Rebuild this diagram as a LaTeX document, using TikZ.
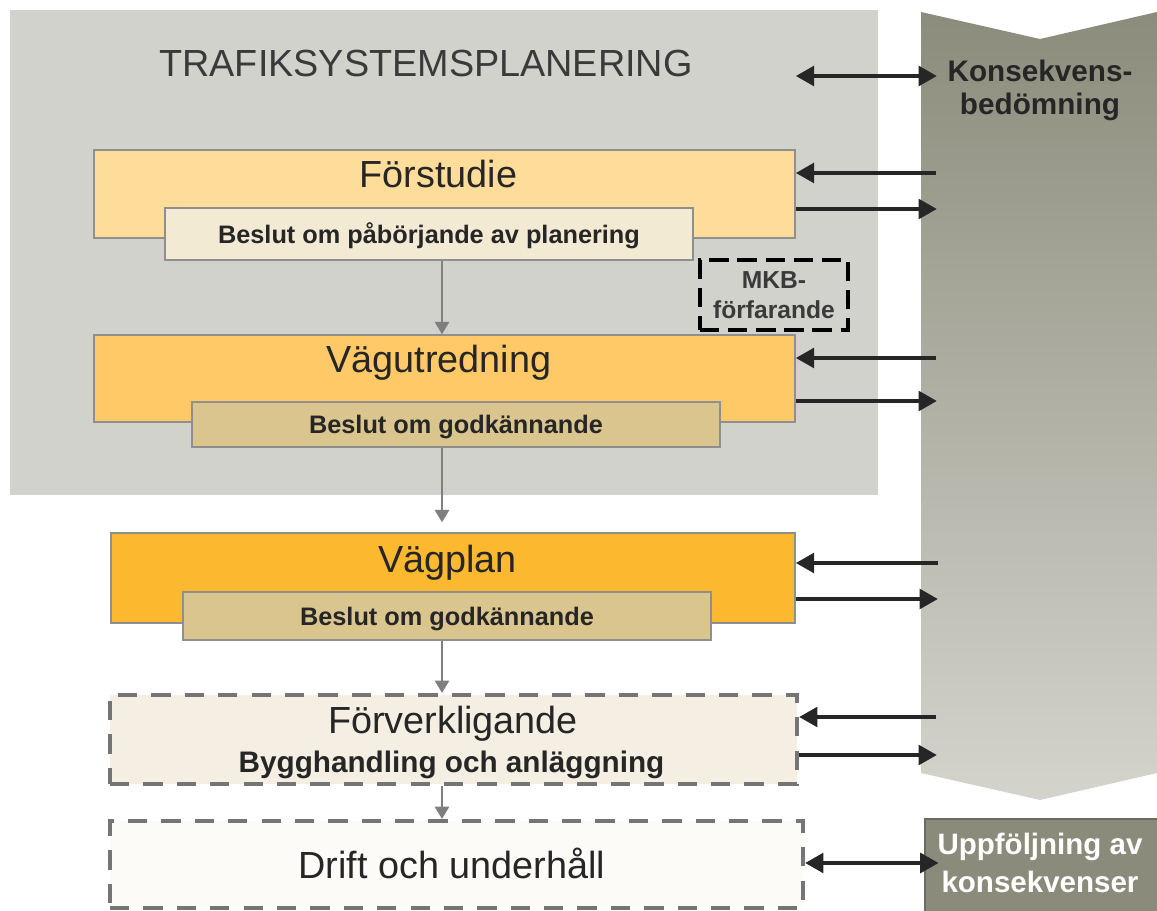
\documentclass[tikz,border=0pt]{standalone}
\usepackage{fontspec}
\setmainfont{Liberation Sans}
\usetikzlibrary{arrows.meta}

\definecolor{bggray}{HTML}{D1D2CC}
\definecolor{chevtop}{HTML}{8C8C7C}
\definecolor{chevbot}{HTML}{D4D4CD}
\definecolor{fsfill}{HTML}{FEDD9B}
\definecolor{b1fill}{HTML}{F2EAD3}
\definecolor{vufill}{HTML}{FEC966}
\definecolor{bgfill}{HTML}{DBC58E}
\definecolor{vpfill}{HTML}{FCB82E}
\definecolor{fvfill}{HTML}{F4EFE2}
\definecolor{drfill}{HTML}{FCFBF8}
\definecolor{upfill}{HTML}{8B8B7B}
\definecolor{upline}{HTML}{6A6A5E}
\definecolor{boxline}{HTML}{8F8F8F}
\definecolor{dashgray}{HTML}{757575}
\definecolor{flowgray}{HTML}{7F7F7F}
\definecolor{linkblack}{HTML}{262626}
\definecolor{txt}{HTML}{262626}
\definecolor{titletxt}{HTML}{3A3A3A}

\begin{document}
\begin{tikzpicture}
  \tikzstyle{every node}=[text=txt, inner sep=0pt, font=\fontsize{21.5}{25}\selectfont]
  \tikzstyle{box}=[draw=boxline, line width=0.8pt]
  \tikzstyle{dbox}=[draw=dashgray, line width=2.3pt, dash pattern=on 11pt off 8pt]
  \tikzstyle{sub}=[font=\bfseries\fontsize{14.4}{17}\selectfont, text depth=0pt, text height=10.3pt]
  \tikzstyle{flow}=[draw=flowgray, line width=1.4pt, -{Triangle[length=7pt,width=8pt]}]
  \tikzstyle{link}=[draw=linkblack, line width=2.7pt, -{Triangle[length=10.5pt,width=11pt]}]
  \tikzstyle{dlink}=[link, {Triangle[length=10.5pt,width=11pt]}-{Triangle[length=10.5pt,width=11pt]}]

 \useasboundingbox (0,0) rectangle (23.14,18.2);
 \fill[bggray] (0.19,8.3) rectangle (17.56,17.99);
 \shade[top color=chevtop, bottom color=chevbot] (18.42,17.96) -- (20.8,17.42) -- (23.14,17.96)
   -- (23.14,2.74) -- (20.8,2.2) -- (18.42,2.74) -- cycle;

 \node[anchor=base, text=titletxt] (title) at (8.52,16.66) {TRAFIKSYSTEMSPLANERING};
 \node[align=center, font=\bfseries\fontsize{16.9}{18.8}\selectfont] (kb) at (20.8,16.39) {Konsekvens-\\bedömning};

 \node[box, fill=fsfill, minimum width=14.02cm, minimum height=1.76cm] (fs) at (8.89,14.32) {};
 \node[anchor=base] (fst) at (8.77,14.44) {Förstudie};
 \node[box, sub, fill=b1fill, minimum width=10.56cm, minimum height=1.04cm] (b1) at (8.58,13.52) {Beslut om påbörjande av planering};
 \node[draw=black, line width=2.2pt, dash pattern=on 11pt off 5pt, minimum width=2.96cm, minimum height=1.4cm,
   align=center, text=titletxt, font=\bfseries\fontsize{14}{17}\selectfont] (mkb) at (15.48,12.3) {MKB-\\förfarande};

 \node[box, fill=vufill, minimum width=14.02cm, minimum height=1.74cm] (vu) at (8.89,10.63) {};
 \node[anchor=base] (vut) at (8.78,10.74) {Vägutredning};
 \node[box, sub, fill=bgfill, minimum width=10.56cm, minimum height=0.9cm] (b2) at (9.12,9.71) {Beslut om godkännande};

 \node[box, fill=vpfill, minimum width=13.68cm, minimum height=1.8cm] (vp) at (9.06,6.64) {};
 \node[anchor=base] (vpt) at (8.95,6.76) {Vägplan};
 \node[box, sub, fill=bgfill, minimum width=10.56cm, minimum height=0.96cm] (b3) at (8.94,5.88) {Beslut om godkännande};

 \node[dbox, fill=fvfill, minimum width=13.74cm, minimum height=1.78cm] (fv) at (9.07,3.41) {};
 \node[anchor=base] (fvt) at (9.06,3.54) {Förverkligande};
 \node[anchor=base, font=\bfseries\fontsize{16.9}{20}\selectfont] (fvs) at (9.03,2.76) {Bygghandling och anläggning};

 \node[dbox, fill=drfill, minimum width=13.86cm, minimum height=1.74cm] (dr) at (9.13,0.91) {};
 \node[anchor=base] (drt) at (9.04,0.64) {Drift och underhåll};

 \node[draw=upline, line width=1.5pt, fill=upfill, minimum width=4.7cm, minimum height=1.92cm] (up) at (20.85,0.86) {};
 \node[align=center, text=white, font=\bfseries\fontsize{16.8}{21.6}\selectfont] (upt) at (20.8,0.94) {Uppföljning av\\konsekvenser};

 % flow down the left column
 \coordinate (col) at (8.84,0);
 \draw [flow] (b1.south -| col) -- (vu.north -| col);
 \draw [flow, shorten >=0.2cm] (b2.south -| col) -- (vp.north -| col);
 \draw [flow] (b3.south -| col) -- (fv.north -| col);
 \draw [flow] (fv.south -| col) -- (dr.north -| col);

 % links to and from the assessment
 \coordinate (k0) at (18.74,16.68);
 \coordinate (k1) at (18.72,14.74);
 \coordinate (k2) at (18.74,14.02);
 \coordinate (k3) at (18.72,11.04);
 \coordinate (k4) at (18.74,10.18);
 \coordinate (k5) at (18.76,6.94);
 \coordinate (k6) at (18.76,6.22);
 \coordinate (k7) at (18.72,3.86);
 \coordinate (k8) at (18.74,3.1);

 \draw [dlink] (fs.east |- k0) -- (k0);
 \draw [link] (k1) -- (fs.east |- k1);
 \draw [link] (fs.east |- k2) -- (k2);
 \draw [link] (k3) -- (vu.east |- k3);
 \draw [link] (vu.east |- k4) -- (k4);
 \draw [link] (k5) -- (vp.east |- k5);
 \draw [link] (vp.east |- k6) -- (k6);
 \draw [link] (k7) -- (fv.east |- k7);
 \draw [link] (fv.east |- k8) -- (k8);
 \draw [dlink, shorten >=-0.3cm] (dr.east |- upt) -- (up.west |- upt);

\end{tikzpicture}
\end{document}
